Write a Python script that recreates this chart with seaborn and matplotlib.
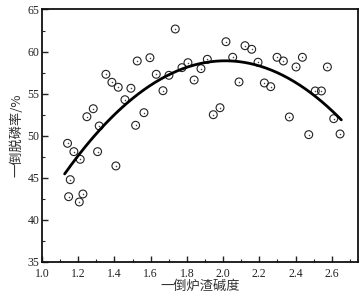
import numpy as np
import pandas as pd
import matplotlib
matplotlib.use("Agg")
import matplotlib.pyplot as plt
import seaborn as sns
from matplotlib.ticker import MultipleLocator

basicity = [1.736, 1.526, 1.596, 1.353, 1.386, 1.421, 1.491, 1.631, 1.701, 1.773,
            1.806, 1.878, 1.840, 1.668, 1.458, 1.283, 1.248, 1.563, 1.517, 1.316,
            1.913, 1.141, 1.176, 1.211, 1.307, 1.408, 1.156, 1.147, 1.226, 1.206,
            2.016, 2.121, 2.158, 2.053, 2.193, 2.298, 2.333, 2.438, 2.403, 2.576,
            2.088, 2.228, 2.263, 2.509, 2.543, 1.946, 1.983, 2.366, 2.611, 2.473,
            2.646]
dephos = [62.68, 58.88, 59.27, 57.30, 56.35, 55.76, 55.64, 57.30, 57.18, 58.09,
          58.68, 57.97, 56.62, 55.35, 54.28, 53.21, 52.26, 52.74, 51.24, 51.16,
          59.08, 49.10, 48.11, 47.20, 48.11, 46.41, 44.78, 42.76, 43.08, 42.13,
          61.17, 60.70, 60.27, 59.32, 58.73, 59.32, 58.88, 59.32, 58.17, 58.17,
          56.39, 56.27, 55.83, 55.32, 55.32, 52.50, 53.33, 52.23, 52.03, 50.13,
          50.21]

# quadratic fit y = a x^2 + b x + c
fit_a, fit_b, fit_c = -17.08, 68.73, -10.24
fit_range = [1.125, 2.653]

x_ticks = [1.0, 1.2, 1.4, 1.6, 1.8, 2.0, 2.2, 2.4, 2.6]
x_ticklabels = ["1.0", "1.2", "1.4", "1.6", "1.8", "2.0", "2.2", "2.4", "2.6"]

df = pd.DataFrame({"x": basicity, "y": dephos})
xf = np.linspace(fit_range[0], fit_range[1], 200)
fit_df = pd.DataFrame({"x": xf, "y": fit_a * xf**2 + fit_b * xf + fit_c})

sns.set_style("ticks")
plt.rcParams['font.family'] = ['Liberation Serif', 'Noto Sans CJK SC']
plt.rcParams['xtick.direction'] = 'in'
plt.rcParams['ytick.direction'] = 'in'

fig = plt.figure(figsize=(3.63, 3.01), dpi=100)
ax = fig.add_axes([0.1157, 0.1296, 0.8705, 0.8389])

sns.scatterplot(data=df, x="x", y="y", ax=ax, marker="o", s=32,
                facecolor="none", edgecolor="#222222", linewidth=0.8, legend=False)
sns.scatterplot(data=df, x="x", y="y", ax=ax, marker="o", s=1.2,
                color="#444444", linewidth=0, legend=False)
sns.lineplot(data=fit_df, x="x", y="y", ax=ax, color="black", linewidth=2.0)

ax.set_xlim(1.0, 2.745)
ax.set_ylim(35, 65)
ax.xaxis.set_minor_locator(MultipleLocator(0.1))
ax.yaxis.set_major_locator(MultipleLocator(5))
ax.yaxis.set_minor_locator(MultipleLocator(2.5))
ax.set_xticks(x_ticks)
ax.set_xticklabels(x_ticklabels)
ax.tick_params(which="major", length=4, width=1.0, labelsize=8.5, colors="#222222")
ax.tick_params(axis="x", which="major", pad=4)
ax.tick_params(axis="y", which="major", pad=2)
ax.tick_params(which="minor", length=2.5, width=0.8)
for sp in ax.spines.values():
    sp.set_linewidth(1.3)
    sp.set_color("#111111")

ax.set_xlabel("一倒炉渣碱度", family=['Noto Sans CJK SC'], fontsize=9.5, color="#333333", labelpad=0)
ax.set_ylabel("一倒脱磷率/%", family=['Noto Sans CJK SC', 'DejaVu Sans'], fontsize=9.5, color="#333333", labelpad=3)

fig.savefig("out.png", dpi=100)
